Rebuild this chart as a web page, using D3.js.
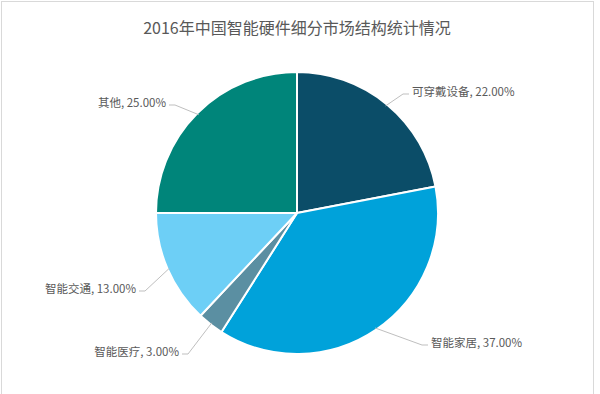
<!DOCTYPE html>
<html>
<head>
<meta charset="utf-8">
<script src="https://cdn.jsdelivr.net/npm/d3@7"></script>
<style>
  body { margin: 0; background: #fff; }
  text { font-family: "Noto Sans CJK SC", "Noto Sans", sans-serif; }
</style>
</head>
<body>
<svg id="pie_svg" width="600" height="394"></svg>
<script>
const title = "2016年中国智能硬件细分市场结构统计情况";
const categories = ["可穿戴设备", "智能家居", "智能医疗", "智能交通", "其他"];
const values = [22, 37, 3, 13, 25];
const colors = ["#0b4d68", "#00a2da", "#5b8fa2", "#6dcff6", "#00857a"];

// leader elbow (relative to centre) and which side the text sits
const labelLayout = [
  { ex: 106, ey: -119, side: 1 },
  { ex: 125, ey: 132, side: 1 },
  { ex: -109, ey: 141, side: -1 },
  { ex: -152, ey: 78, side: -1 },
  { ex: -122, ey: -108, side: -1 },
];

const d3 = window.d3;
const width = 600, height = 394;
const cx = 297, cy = 213, radius = 141;

const svg = d3.select("#pie_svg");

svg.append("rect")
  .attr("x", 1.5).attr("y", 1.5)
  .attr("width", 592).attr("height", 400)
  .attr("fill", "#fff")
  .attr("stroke", "#d9d9d9")
  .attr("stroke-width", 1);

svg.append("text")
  .attr("x", cx)
  .attr("y", 27)
  .attr("text-anchor", "middle")
  .attr("dominant-baseline", "central")
  .attr("font-size", 16)
  .attr("fill", "#595959")
  .text(title);

const data = categories.map((name, i) => ({ name, value: values[i], color: colors[i], layout: labelLayout[i] }));

const pie = d3.pie().sort(null).value(d => d.value);
const arc = d3.arc().innerRadius(0).outerRadius(radius);
const edgeArc = d3.arc().innerRadius(radius - 2).outerRadius(radius - 2);

const g = svg.append("g").attr("transform", `translate(${cx}, ${cy})`);
const arcs = pie(data);

g.selectAll(".slice")
  .data(arcs)
  .enter()
  .append("path")
  .attr("class", "slice")
  .attr("d", arc)
  .attr("fill", d => d.data.color)
  .attr("stroke", "#fff")
  .attr("stroke-width", 2)
  .attr("stroke-linejoin", "round");

g.selectAll(".leader")
  .data(arcs)
  .enter()
  .append("polyline")
  .attr("class", "leader")
  .attr("fill", "none")
  .attr("stroke", "#bfbfbf")
  .attr("stroke-width", 1)
  .attr("points", d => {
    const p = edgeArc.centroid(d);
    const l = d.data.layout;
    return [p, [l.ex, l.ey], [l.ex + l.side * 6, l.ey]].map(q => q.join(",")).join(" ");
  });

g.selectAll(".label")
  .data(arcs)
  .enter()
  .append("text")
  .attr("class", "label")
  .attr("x", d => d.data.layout.ex + d.data.layout.side * 9)
  .attr("y", d => d.data.layout.ey - 3)
  .attr("text-anchor", d => d.data.layout.side > 0 ? "start" : "end")
  .attr("dominant-baseline", "central")
  .attr("font-size", 11.5)
  .attr("fill", "#595959")
  .text(d => `${d.data.name}, ${d.data.value.toFixed(2)}%`);
</script>
</body>
</html>
